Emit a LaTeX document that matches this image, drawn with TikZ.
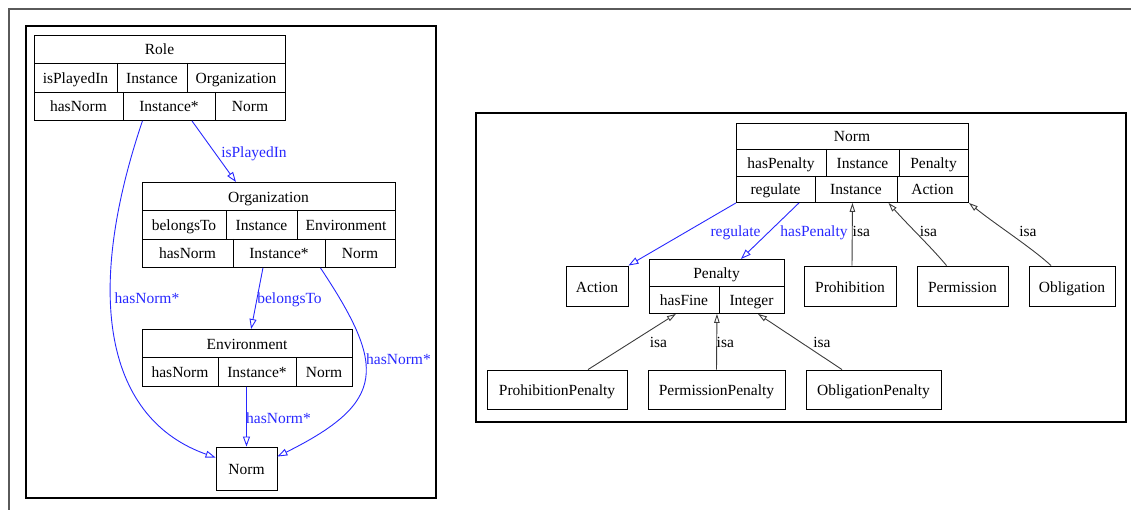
\documentclass[tikz,border=0pt]{standalone}
\usepackage{fontspec}
\setmainfont{Liberation Serif}
\usetikzlibrary{arrows.meta,calc}
\definecolor{linkblue}{RGB}{40,40,255}
\definecolor{isagray}{RGB}{60,60,60}
\definecolor{framegray}{RGB}{90,90,90}
\begin{document}
\begin{tikzpicture}[x=1pt,y=-1pt,
  every node/.style={font=\fontsize{15.5}{18}\selectfont},
  txt/.style={inner sep=0pt, text height=13pt, text depth=1pt},
  frame/.style={draw, line width=0.9pt, inner sep=0pt, anchor=north west},
  simplebox/.style={draw, line width=0.9pt, inner sep=0pt, text height=13pt, text depth=1pt},
  panel/.style={draw, line width=2pt},
  cellline/.style={line width=0.9pt},
  rel/.style={draw=linkblue, line width=0.9pt, -{Triangle[open,length=10pt,width=7pt]}},
  rellabel/.style={txt, text=linkblue},
  isa/.style={draw=isagray, line width=0.9pt, -{Triangle[open,length=9pt,width=5.5pt]}},
  isalabel/.style={txt, text=black}
]
\useasboundingbox (0,0) rectangle (1131,510);

% page frame and the two panels
\draw[framegray, line width=1.3pt] (9,510) -- (9,9) -- (1131,9);
\draw[panel] (26,26) rectangle (436,498);
\draw[panel] (476,113) rectangle (1126,422);

% ---------------- left panel ----------------
% Role
\node[frame, minimum width=251pt, minimum height=85pt] (role) at (34,35) {};
\draw[cellline] (34,63) -- (285,63) (34,92) -- (285,92);
\draw[cellline] (117,63) -- (117,92) (187,63) -- (187,92);
\draw[cellline] (123,92) -- (123,120) (215,92) -- (215,120);
\node[txt] at (159.5,49) {Role};
\node[txt] at (75.5,77.5) {isPlayedIn};
\node[txt] at (152,77.5) {Instance};
\node[txt] at (236,77.5) {Organization};
\node[txt] at (78.5,106) {hasNorm};
\node[txt] at (169,106) {Instance*};
\node[txt] at (250,106) {Norm};

% Organization
\node[frame, minimum width=253pt, minimum height=85pt] (org) at (142,182) {};
\draw[cellline] (142,210.7) -- (395,210.7) (142,239) -- (395,239);
\draw[cellline] (226,210.7) -- (226,239) (297,210.7) -- (297,239);
\draw[cellline] (233,239) -- (233,267) (325,239) -- (325,267);
\node[txt] at (268.5,196.5) {Organization};
\node[txt] at (184,225) {belongsTo};
\node[txt] at (261.5,225) {Instance};
\node[txt] at (346,225) {Environment};
\node[txt] at (187.5,253) {hasNorm};
\node[txt] at (279,253) {Instance*};
\node[txt] at (360,253) {Norm};

% Environment
\node[frame, minimum width=210pt, minimum height=57pt] (env) at (142,329) {};
\draw[cellline] (142,357.5) -- (352,357.5);
\draw[cellline] (218,357.5) -- (218,386) (296,357.5) -- (296,386);
\node[txt] at (247,343) {Environment};
\node[txt] at (180,371.5) {hasNorm};
\node[txt] at (257,371.5) {Instance*};
\node[txt] at (324,371.5) {Norm};

% Norm (target)
\node[simplebox, minimum width=61pt, minimum height=43pt] (normL) at (246.5,468.5) {Norm};

% relations
\draw[rel] ($(role.south)+(32,0)$) -- ($(org.north)+(-33,0)$);
\node[rellabel] at (254,152) {isPlayedIn};

\draw[rel] ($(role.south)+(-17.5,0)$) .. controls (82,300) and (108,419.5) .. ($(normL.north west)+(0,11)$);
\node[rellabel] at (147,298) {hasNorm*};

\draw[rel] ($(org.south)+(-6,0)$) -- ($(env.north)+(3.7,0)$);
\node[rellabel] at (289.5,298) {belongsTo};

\draw[rel] ($(org.south)+(51.5,0)$) .. controls (386,366.6) and (387,402) .. ($(normL.north east)+(0,10)$);
\node[rellabel] at (398.5,358) {hasNorm*};

\draw[rel] ($(env.south)+(-1,0)$) -- (normL.north);
\node[rellabel] at (278.5,417) {hasNorm*};

% ---------------- right panel ----------------
% Norm
\node[frame, minimum width=232pt, minimum height=79pt] (normR) at (736,123) {};
\draw[cellline] (736,149) -- (968,149) (736,176) -- (968,176);
\draw[cellline] (826,149) -- (826,176) (899,149) -- (899,176);
\draw[cellline] (815,176) -- (815,202) (897,176) -- (897,202);
\node[txt] at (852,136) {Norm};
\node[txt] at (781,162.5) {hasPenalty};
\node[txt] at (862.5,162.5) {Instance};
\node[txt] at (933.5,162.5) {Penalty};
\node[txt] at (775.5,189) {regulate};
\node[txt] at (856,189) {Instance};
\node[txt] at (932.5,189) {Action};

% Penalty
\node[frame, minimum width=135pt, minimum height=54pt] (penalty) at (649,259) {};
\draw[cellline] (649,286) -- (784,286);
\draw[cellline] (719,286) -- (719,313);
\node[txt] at (716.5,272.5) {Penalty};
\node[txt] at (684,299.5) {hasFine};
\node[txt] at (751.5,299.5) {Integer};

% simple classes
\node[simplebox, minimum width=62pt, minimum height=40pt] (action) at (597,286) {Action};
\node[simplebox, minimum width=92pt, minimum height=40pt] (prohib) at (850,286) {Prohibition};
\node[simplebox, minimum width=91pt, minimum height=40pt] (perm) at (962.5,286) {Permission};
\node[simplebox, minimum width=86pt, minimum height=40pt] (oblig) at (1072,286) {Obligation};
\node[simplebox, minimum width=140pt, minimum height=39pt] (prohibpen) at (557,389.5) {ProhibitionPenalty};
\node[simplebox, minimum width=137pt, minimum height=39pt] (permpen) at (716.5,389.5) {PermissionPenalty};
\node[simplebox, minimum width=135pt, minimum height=39pt] (obligpen) at (873.5,389.5) {ObligationPenalty};

% relations
\draw[rel] (normR.south west) -- (action.north east);
\node[rellabel] at (735.5,231) {regulate};
\draw[rel] ($(normR.south west)+(63,0)$) -- ($(penalty.north)+(24,0)$);
\node[rellabel] at (814,231) {hasPenalty};

% specialisations of Norm
\draw[isa] ($(prohib.north)+(2,0)$) -- (normR.south);
\node[isalabel, anchor=west] at (852.5,231) {isa};
\draw[isa] ($(perm.north)+(-16,0)$) .. controls (932,248) and (908,225) .. ($(normR.south)+(36,0)$);
\node[isalabel] at (928.5,231) {isa};
\draw[isa] ($(oblig.north)+(-21,0)$) .. controls (1032,248) and (995,224) .. (normR.south east);
\node[isalabel] at (1028,231) {isa};

% specialisations of Penalty
\draw[isa] ($(prohibpen.north)+(31,0)$) -- ($(penalty.south)+(-41,0)$);
\node[isalabel] at (658.5,341) {isa};
\draw[isa] (permpen.north) -- (penalty.south);
\node[isalabel, anchor=west] at (716.5,341) {isa};
\draw[isa] ($(obligpen.north)+(-31.5,0)$) -- ($(penalty.south)+(41,0)$);
\node[isalabel] at (822,341) {isa};

\end{tikzpicture}
\end{document}
